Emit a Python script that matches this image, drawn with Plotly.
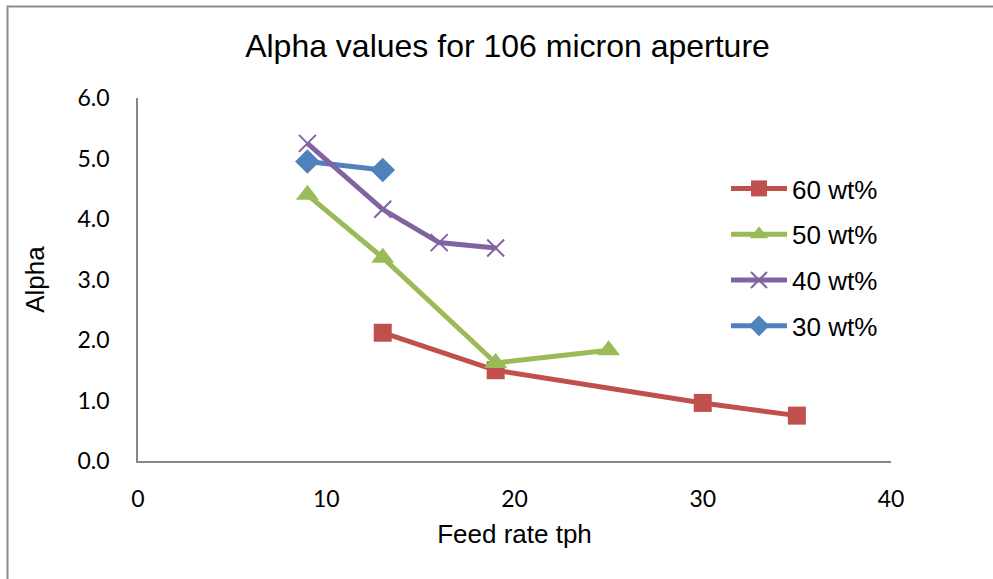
import plotly.graph_objects as go

# Data
series_names = ["60 wt%", "50 wt%", "40 wt%", "30 wt%"]
x_60 = [13, 19, 30, 35]
y_60 = [2.12, 1.50, 0.96, 0.75]
x_50 = [9, 13, 19, 25]
y_50 = [4.40, 3.36, 1.62, 1.83]
x_40 = [9, 13, 16, 19]
y_40 = [5.25, 4.16, 3.61, 3.52]
x_30 = [9, 13]
y_30 = [4.95, 4.81]

RED = "#C0504D"
GREEN = "#9BBB59"
PURPLE = "#8064A2"
BLUE = "#4F81BD"

fig = go.Figure()

# drawing order: blue, red, green, purple ; legend order: 60, 50, 40, 30
fig.add_trace(go.Scatter(
    x=x_30, y=y_30, name=series_names[3], mode="lines+markers",
    line=dict(color=BLUE, width=5), legendrank=4, legendgroup="d",
    marker=dict(symbol="diamond", size=19, color=BLUE)))
fig.add_trace(go.Scatter(
    x=x_60, y=y_60, name=series_names[0], mode="lines+markers",
    line=dict(color=RED, width=5), legendrank=1, legendgroup="a",
    marker=dict(symbol="square", size=18, color=RED)))
fig.add_trace(go.Scatter(
    x=x_50, y=y_50, name=series_names[1], mode="lines+markers",
    line=dict(color=GREEN, width=5), legendrank=2, legendgroup="b",
    marker=dict(symbol="triangle-up", size=20, color=GREEN)))
fig.add_trace(go.Scatter(
    x=x_40, y=y_40, name=series_names[2], mode="lines+markers",
    line=dict(color=PURPLE, width=5), legendrank=3, legendgroup="c",
    marker=dict(symbol="x-thin", size=17, color=PURPLE,
                line=dict(color=PURPLE, width=2))))

L, R, T, B = 138, 102, 98, 118
W, H = 993, 579
pw, ph = W - L - R, H - T - B

def px_x(p):
    return (p - L) / pw

def px_y(p):
    return (H - B - p) / ph

fig.update_layout(
    width=W, height=H,
    margin=dict(l=L, r=R, t=T, b=B),
    paper_bgcolor="white", plot_bgcolor="white",
    title=dict(text="Alpha values for 106 micron aperture",
               x=507.5 / W, xanchor="center", xref="container",
               y=1 - 46 / H, yanchor="middle",
               font=dict(family="Liberation Sans, Arial", size=32, color="black")),
    showlegend=True,
    legend=dict(x=px_x(726), xanchor="left", y=px_y(165), yanchor="top",
                font=dict(family="Liberation Sans, Arial", size=26, color="black"),
                itemwidth=56,
                tracegroupgap=9, bgcolor="rgba(0,0,0,0)"),
    xaxis=dict(range=[0, 40], dtick=10, tick0=0, showgrid=False,
               zeroline=False, showline=True, linecolor="#868686", linewidth=1.5,
               ticks="", ticklabelstandoff=17,
               tickfont=dict(family="Lato, Carlito, sans-serif", size=23, color="black"),
               title=dict(text="Feed rate tph", standoff=13,
                          font=dict(family="Liberation Sans, Arial", size=26, color="black"))),
    yaxis=dict(range=[0, 6], dtick=1, tick0=0, tickformat=".1f", showgrid=False,
               zeroline=False, showline=True, linecolor="#868686", linewidth=1.5,
               ticks="", ticklabelstandoff=22,
               tickfont=dict(family="Lato, Carlito, sans-serif", size=23, color="black"),
               title=dict(text="Alpha", standoff=25,
                          font=dict(family="Liberation Sans, Arial", size=26, color="black"))),
    shapes=[dict(type="rect", xref="paper", yref="paper",
                 x0=px_x(7.5), x1=px_x(1010), y0=px_y(6.5), y1=px_y(600),
                 line=dict(color="#8c8c8c", width=2), layer="below")],
)

fig.write_html("out.html")
